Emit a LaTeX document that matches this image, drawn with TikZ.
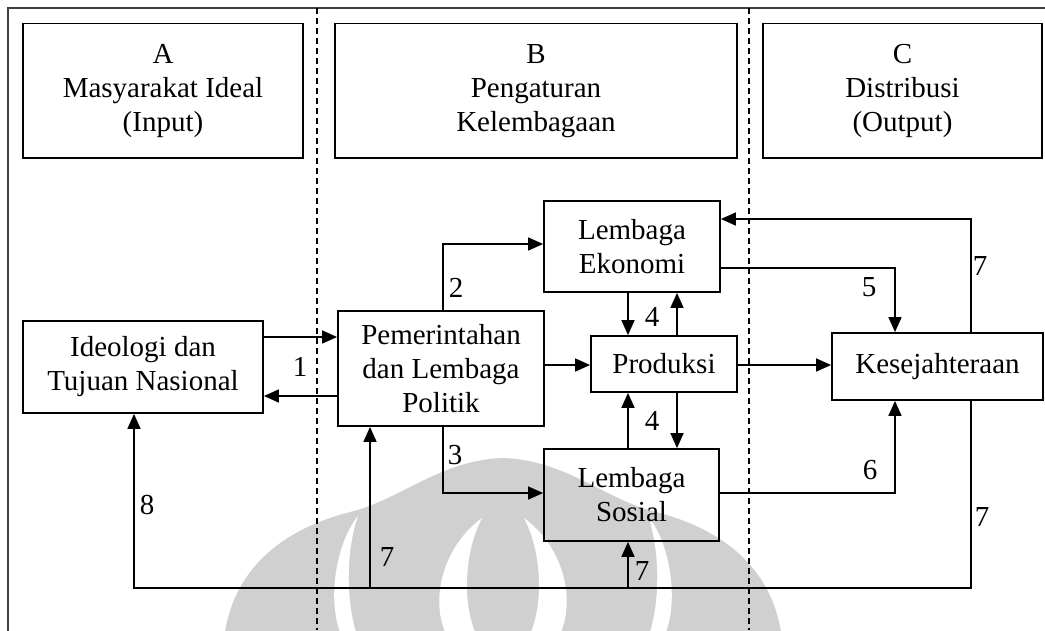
\documentclass[tikz,border=0pt]{standalone}
\usepackage{fontspec}
\setmainfont{Liberation Serif}
\usetikzlibrary{arrows.meta}
\definecolor{wmark}{RGB}{208,208,208}
\begin{document}
\begin{tikzpicture}[x=1pt,y=-1pt,
  box/.style={draw,line width=1.8pt,inner sep=0pt,align=center,
    font=\fontsize{29}{34}\selectfont},
  num/.style={inner sep=0pt,font=\fontsize{29}{34}\selectfont},
  link/.style={line width=1.6pt,-{Triangle[length=15pt,width=13pt]}},
  wire/.style={line width=1.6pt},
  divider/.style={line width=1.5pt,dash pattern=on 6pt off 4pt}]
\useasboundingbox (0,0) rectangle (1045,630);

% background emblem
\begin{scope}
  \clip (0,0) rectangle (1045,630);
  \fill[wmark] (225,632) .. controls (235,570) and (280,530) .. (350,512)
     .. controls (400,500) and (440,460) .. (503,458)
     .. controls (566,460) and (606,500) .. (656,512)
     .. controls (726,530) and (771,570) .. (781,632) -- cycle;
  \fill[white] (358,516) .. controls (335,545) and (328,600) .. (340,632)
     -- (356,632) .. controls (346,600) and (346,550) .. cycle;
  \fill[white] (482,518) .. controls (445,545) and (430,595) .. (445,632)
     -- (475,632) .. controls (462,600) and (465,550) .. cycle;
  \fill[white] (524,518) .. controls (561,545) and (576,595) .. (561,632)
     -- (531,632) .. controls (544,600) and (541,550) .. cycle;
  \fill[white] (648,516) .. controls (671,545) and (678,600) .. (666,632)
     -- (650,632) .. controls (660,600) and (660,550) .. cycle;
\end{scope}

% outer frame and column dividers
\draw[line width=2pt,black!75] (8,640) -- (8,8) -- (1050,8);
\draw[divider] (317,8) -- (317,630);
\draw[divider] (749,8) -- (749,630);

% column headers
\node[box,minimum width=280pt,minimum height=134.5pt] (colA) at (163,90.75)
  {A\\Masyarakat Ideal\\(Input)};
\node[box,minimum width=402pt,minimum height=134.5pt] (colB) at (536,90.75)
  {B\\Pengaturan\\Kelembagaan};
\node[box,minimum width=279pt,minimum height=134.5pt] (colC) at (902.5,90.75)
  {C\\Distribusi\\(Output)};

% institutions
\node[box,minimum width=240pt,minimum height=92pt] (ideo) at (143,367)
  {Ideologi dan\\Tujuan Nasional};
\node[box,minimum width=206pt,minimum height=115pt] (pem) at (441,368.5)
  {Pemerintahan\\dan Lembaga\\Politik};
\node[box,minimum width=176pt,minimum height=91pt] (eko) at (632,246.5)
  {Lembaga\\Ekonomi};
\node[box,minimum width=146pt,minimum height=56pt] (prod) at (664,364)
  {Produksi};
\node[box,minimum width=211pt,minimum height=67pt] (kes) at (937.5,366.5)
  {Kesejahteraan};
\node[box,minimum width=175pt,minimum height=92pt] (sos) at (631.5,495)
  {Lembaga\\Sosial};

% routing points
\coordinate (c2) at (443,244);
\coordinate (c3) at (443,493);
\coordinate (c5) at (895,268);
\coordinate (c6) at (895,493);
\coordinate (c7t) at (971,219);
\coordinate (c7b) at (971,588);
\coordinate (c8) at (134,588);

% 1
\draw[link] (ideo.east |- 0,337) -- (pem.west |- 0,337);
\draw[link] (pem.west |- 0,396) -- (ideo.east |- 0,396);
% 2 and 3
\draw[link] (pem.north -| c2) -- (c2) -- (eko.west |- c2);
\draw[link] (pem.south -| c3) -- (c3) -- (sos.west |- c3);
% government to production
\draw[link] (pem.east |- 0,365) -- (prod.west |- 0,365);
% 4
\draw[link] (eko.south -| 628,0) -- (prod.north -| 628,0);
\draw[link] (prod.north -| 677,0) -- (eko.south -| 677,0);
\draw[link] (prod.south -| 677,0) -- (sos.north -| 677,0);
\draw[link] (sos.north -| 628,0) -- (prod.south -| 628,0);
% 5 and 6
\draw[link] (eko.east |- c5) -- (c5) -- (kes.north -| c5);
\draw[link] (prod.east |- 0,365) -- (kes.west |- 0,365);
\draw[link] (sos.east |- c6) -- (c6) -- (kes.south -| c6);
% 7
\draw[link] (kes.north -| c7t) -- (c7t) -- (eko.east |- c7t);
\draw[link] (kes.south -| c7b) -- (c7b) -- (c8) -- (ideo.south -| c8);
\draw[link] (370,588) -- (pem.south -| 370,0);
\draw[link] (628,588) -- (sos.south -| 628,0);

% flow numbers
\node[num] (n1) at (300,367) {1};
\node[num] (n2) at (456,288) {2};
\node[num] (n3) at (455,455) {3};
\node[num] (n4a) at (652,317) {4};
\node[num] (n4b) at (652,421) {4};
\node[num] (n5) at (869,287) {5};
\node[num] (n6) at (870,470) {6};
\node[num] (n7a) at (980,266) {7};
\node[num] (n7b) at (982,517) {7};
\node[num] (n7c) at (642,571) {7};
\node[num] (n7d) at (387,557) {7};
\node[num] (n8) at (147,505) {8};
\end{tikzpicture}
\end{document}
